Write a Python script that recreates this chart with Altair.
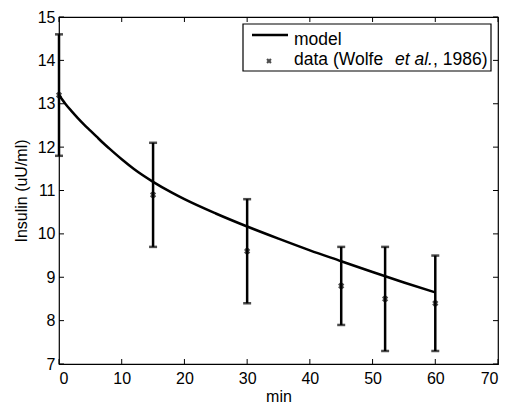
import altair as alt
import pandas as pd

# Data (Wolfe et al., 1986)
t_data = [0, 15, 30, 45, 52, 60]
ins_data = [13.2, 10.9, 9.6, 8.8, 8.5, 8.4]
ins_lo = [11.8, 9.7, 8.4, 7.9, 7.3, 7.3]
ins_hi = [14.6, 12.1, 10.8, 9.7, 9.7, 9.5]

# Model curve
t_model = [0, 1, 2, 3, 4, 5, 6, 7, 8, 10, 12, 15, 18, 20, 25, 30, 35, 40, 45, 50, 55, 60]
ins_model = [13.2, 13.0, 12.83, 12.67, 12.52, 12.38, 12.24, 12.1, 11.97, 11.72, 11.49, 11.2,
             10.95, 10.8, 10.47, 10.17, 9.89, 9.62, 9.37, 9.12, 8.88, 8.65]

x_ticks = [0, 10, 20, 30, 40, 50, 60, 70]
y_ticks = [7, 8, 9, 10, 11, 12, 13, 14, 15]

W, H = 439, 347
FONT = "Liberation Sans"
FS = 16
LFS = 17.5

xs = alt.Scale(domain=[0, 70], nice=False, zero=False)
ys = alt.Scale(domain=[7, 15], nice=False, zero=False)

df_data = pd.DataFrame({"t": t_data, "v": ins_data, "lo": ins_lo, "hi": ins_hi})
df_model = pd.DataFrame({"t": t_model, "v": ins_model})
df_xt = pd.DataFrame({"t": x_ticks})
df_yt = pd.DataFrame({"v": y_ticks})

xaxis = alt.Axis(values=x_ticks, ticks=False, domain=False, grid=False, labelPadding=6,
                 title="min", titlePadding=2, labelFontSize=FS, titleFontSize=FS,
                 labelFont=FONT, titleFont=FONT, titleFontWeight="normal",
                 labelColor="black", titleColor="black", format="d")
yaxis = alt.Axis(values=y_ticks, ticks=False, domain=False, grid=False, labelPadding=4,
                 title="Insulin (uU/ml)", titlePadding=8, labelFontSize=FS, titleFontSize=FS,
                 labelFont=FONT, titleFont=FONT, titleFontWeight="normal",
                 labelColor="black", titleColor="black", format="d")

base_axes = alt.Chart(df_model).mark_line(strokeWidth=2.5, color="black", interpolate="monotone").encode(
    x=alt.X("t:Q", scale=xs, axis=xaxis),
    y=alt.Y("v:Q", scale=ys, axis=yaxis),
)

err = alt.Chart(df_data).mark_rule(strokeWidth=2.5, color="black").encode(
    x=alt.X("t:Q", scale=xs), y=alt.Y("lo:Q", scale=ys), y2="hi:Q")
cap_lo = alt.Chart(df_data).mark_tick(orient="horizontal", size=8, thickness=2.5, color="black").encode(
    x=alt.X("t:Q", scale=xs), y=alt.Y("lo:Q", scale=ys))
cap_hi = alt.Chart(df_data).mark_tick(orient="horizontal", size=8, thickness=2.5, color="black").encode(
    x=alt.X("t:Q", scale=xs), y=alt.Y("hi:Q", scale=ys))
pts = alt.Chart(df_data).mark_point(shape="cross", angle=45, size=40, filled=True,
                                    color="black", strokeWidth=0).encode(
    x=alt.X("t:Q", scale=xs), y=alt.Y("v:Q", scale=ys))

# inward ticks on all four sides
tk_b = alt.Chart(df_xt).mark_rule(color="black", strokeWidth=1).encode(
    x=alt.X("t:Q", scale=xs), y=alt.value(H), y2=alt.value(H - 5))
tk_t = alt.Chart(df_xt).mark_rule(color="black", strokeWidth=1).encode(
    x=alt.X("t:Q", scale=xs), y=alt.value(0), y2=alt.value(5))
tk_l = alt.Chart(df_yt).mark_rule(color="black", strokeWidth=1).encode(
    y=alt.Y("v:Q", scale=ys), x=alt.value(0), x2=alt.value(5))
tk_r = alt.Chart(df_yt).mark_rule(color="black", strokeWidth=1).encode(
    y=alt.Y("v:Q", scale=ys), x=alt.value(W), x2=alt.value(W - 5))

# manual legend
one = pd.DataFrame({"a": [0]})
leg_box = alt.Chart(one).mark_rect(fill="white", stroke="black", strokeWidth=1.2).encode(
    x=alt.value(184), x2=alt.value(432), y=alt.value(7), y2=alt.value(54))
leg_line = alt.Chart(one).mark_rule(color="black", strokeWidth=2.5).encode(
    x=alt.value(193), x2=alt.value(229), y=alt.value(18))
leg_pt = alt.Chart(one).mark_point(shape="cross", angle=45, size=30, filled=True,
                                  color="black", strokeWidth=0).encode(
    x=alt.value(210), y=alt.value(44))


def txt(s, x, y, style="normal"):
    return alt.Chart(pd.DataFrame({"s": [s]})).mark_text(
        align="left", baseline="alphabetic", font=FONT, fontSize=LFS, fontStyle=style,
        color="black").encode(x=alt.value(x), y=alt.value(y), text="s:N")


leg_t1 = txt("model", 235, 28)
leg_t2 = txt("data (Wolfe", 235, 48)
leg_t3 = txt("et al.", 336, 48, "italic")
leg_t4 = txt(", 1986)", 374, 48)

chart = alt.layer(
    base_axes, err, cap_lo, cap_hi, pts, tk_b, tk_t, tk_l, tk_r,
    leg_box, leg_line, leg_pt, leg_t1, leg_t2, leg_t3, leg_t4
).properties(
    width=W, height=H,
    autosize=alt.AutoSizeParams(type="none"),
    padding={"left": 59, "top": 17, "right": 11, "bottom": 40},
    background="white",
).configure_view(stroke="black", strokeWidth=1.2)

chart.save("out.html", embed_options={"renderer": "svg", "actions": False})
